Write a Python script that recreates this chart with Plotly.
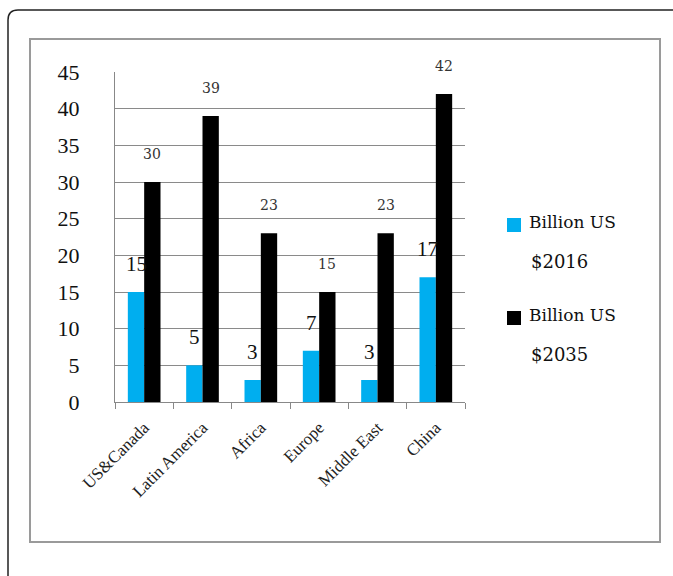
import plotly.graph_objects as go

categories = ["US&Canada", "Latin America", "Africa", "Europe", "Middle East", "China"]
values_2016 = [15, 5, 3, 7, 3, 17]
values_2035 = [30, 39, 23, 15, 23, 42]
series_names = ["Billion US<br>$2016", "Billion US<br>$2035"]
y_ticks = [0, 5, 10, 15, 20, 25, 30, 35, 40, 45]

BLUE = "#00AEEF"
BLACK = "#000000"
W, H = 673, 576
L, R, T, B = 115, 465, 72, 402  # plot area in pixels


def px(x):
    return (x - L) / (R - L)


def py(y):
    return (B - y) / (B - T)


fig = go.Figure()
fig.add_trace(go.Bar(x=categories, y=values_2016, name=series_names[0],
                     marker=dict(color=BLUE, line=dict(width=0))))
fig.add_trace(go.Bar(x=categories, y=values_2035, name=series_names[1],
                     marker=dict(color=BLACK, line=dict(width=0))))

annotations = []
for i, c in enumerate(categories):
    annotations.append(dict(x=c, y=values_2016[i], xref="x", yref="y", text=str(values_2016[i]),
                            showarrow=False, xshift=-8, yshift=28,
                            font=dict(family="Liberation Serif", size=21, color="#111")))
    annotations.append(dict(x=c, y=values_2035[i], xref="x", yref="y", text=str(values_2035[i]),
                            showarrow=False, xshift=8, yshift=28,
                            font=dict(family="DejaVu Serif", size=14, color="#333")))

# manual legend
legend_rows = [(225, BLUE, series_names[0]), (318, BLACK, series_names[1])]
shapes = []
for yc, col, name in legend_rows:
    shapes.append(dict(type="rect", xref="paper", yref="paper",
                       x0=px(507), x1=px(521), y0=py(yc - 7), y1=py(yc + 7),
                       fillcolor=col, line=dict(width=0)))
    top, bottom = name.split("<br>")
    annotations.append(dict(x=px(527), y=py(yc - 3), xref="paper", yref="paper", text=top,
                            showarrow=False, xanchor="left", yanchor="middle",
                            font=dict(family="DejaVu Serif", size=17, color="#111")))
    annotations.append(dict(x=px(529), y=py(yc + 36), xref="paper", yref="paper", text=bottom,
                            showarrow=False, xanchor="left", yanchor="middle",
                            font=dict(family="DejaVu Serif", size=18, color="#111")))

# inner gray frame
shapes.append(dict(type="rect", xref="paper", yref="paper",
                   x0=px(30), x1=px(660), y0=py(39), y1=py(542),
                   line=dict(color="#9a9a9a", width=2), layer="below"))
# outer rounded frame
r = 10
path = (f"M {px(8)},{py(H + 5)} L {px(8)},{py(10 + r)} "
        f"Q {px(8)},{py(10)} {px(8 + r)},{py(10)} L {px(W + 5)},{py(10)}")
shapes.append(dict(type="path", xref="paper", yref="paper", path=path,
                   line=dict(color="#222", width=1.5), layer="below"))

fig.update_layout(
    width=W, height=H, autosize=False,
    margin=dict(l=L, r=W - R, t=T, b=H - B, pad=0),
    plot_bgcolor="white", paper_bgcolor="white",
    barmode="group", bargap=0.44, bargroupgap=0,
    showlegend=False,
    annotations=annotations, shapes=shapes,
    font=dict(family="Liberation Serif", color="#111"),
)
fig.update_xaxes(showline=True, linecolor="#888", linewidth=1,
                 ticks="outside", tickson="boundaries", ticklen=6, tickcolor="#888",
                 tickangle=-45, ticklabelstandoff=8,
                 tickfont=dict(family="Liberation Serif", size=17, color="#222"),
                 showgrid=False)
fig.update_yaxes(range=[0, 45], tickvals=y_ticks, showgrid=True, gridcolor="#8a8a8a", gridwidth=1,
                 showline=True, linecolor="#888", linewidth=1, zeroline=False,
                 ticks="", ticklabelstandoff=30,
                 tickfont=dict(family="Liberation Serif", size=22, color="#111"))

fig.write_html("out.html", config={"displayModeBar": False},
               post_script="document.body.style.margin='0';document.body.style.overflow='hidden';")
